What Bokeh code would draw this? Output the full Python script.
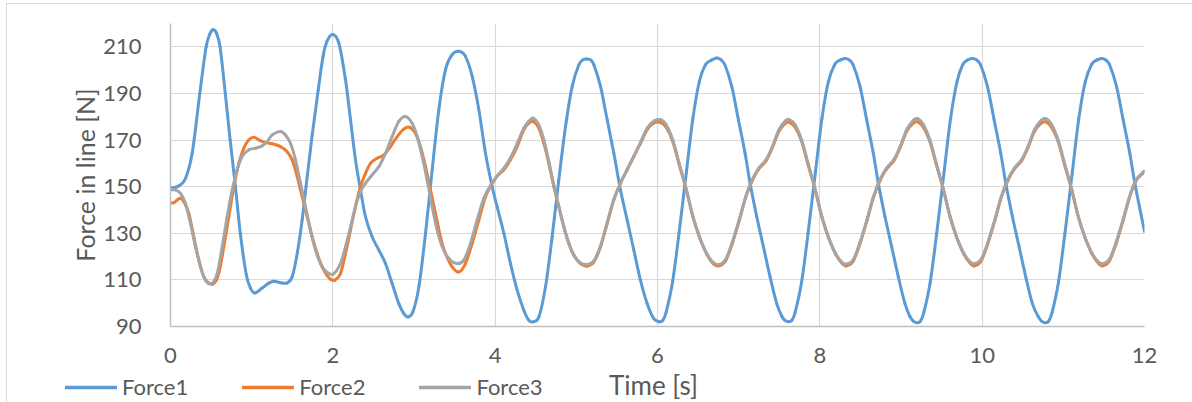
import numpy as np
from bokeh.plotting import figure
from bokeh.layouts import column
from bokeh.models import Range1d, FixedTicker, Legend, LegendItem, Label
from bokeh.embed import file_html
from bokeh.resources import INLINE

# ---- data -------------------------------------------------------------
x_ticks = [0, 2, 4, 6, 8, 10, 12]
y_ticks = [90, 110, 130, 150, 170, 190, 210]

series_names = ["Force1", "Force2", "Force3"]
series_colors = ["#5B9BD5", "#ED7D31", "#A5A5A5"]

# Force1 [N] over time [s]
t1 = [0, 0.05, 0.11, 0.185, 0.267, 0.361, 0.439, 0.485, 0.522, 0.565, 0.61, 0.675,
      0.735, 0.80, 0.86, 0.935, 0.985, 1.039, 1.129, 1.211, 1.273, 1.355, 1.437,
      1.499, 1.561, 1.622, 1.67, 1.745, 1.82, 1.88, 1.93, 2.0, 2.074, 2.156, 2.218,
      2.279, 2.341, 2.402, 2.484, 2.567, 2.649, 2.731, 2.813, 2.875, 2.928, 2.986,
      3.06, 3.142, 3.224, 3.306, 3.388, 3.47, 3.552, 3.634, 3.717, 3.799, 3.881,
      3.963, 4.024, 4.107, 4.189, 4.271, 4.353, 4.415, 4.468, 4.538, 4.62, 4.702,
      4.784, 4.867, 4.949, 5.031, 5.085, 5.133, 5.18, 5.216, 5.298, 5.38, 5.462,
      5.544, 5.626, 5.708, 5.79, 5.873, 5.955, 6.025, 6.065, 6.105, 6.185, 6.265,
      6.355, 6.435, 6.515, 6.595, 6.665, 6.73, 6.78, 6.83, 6.915, 6.997, 7.079,
      7.141, 7.223, 7.305, 7.387, 7.469, 7.53, 7.57, 7.615, 7.655, 7.695, 7.775,
      7.855, 7.945, 8.025, 8.105, 8.185, 8.25, 8.31, 8.36, 8.41, 8.495, 8.577,
      8.659, 8.721, 8.803, 8.885, 8.967, 9.049, 9.11, 9.155, 9.2, 9.24, 9.28, 9.36,
      9.44, 9.53, 9.61, 9.69, 9.76, 9.82, 9.88, 9.93, 9.98, 10.065, 10.147, 10.229,
      10.291, 10.373, 10.455, 10.537, 10.619, 10.69, 10.735, 10.78, 10.82, 10.86,
      10.94, 11.02, 11.11, 11.19, 11.27, 11.35, 11.41, 11.47, 11.52, 11.57, 11.655,
      11.737, 11.819, 11.881, 11.963, 12.0]
force1 = [149.6, 149.6, 150.5, 153.5, 164.3, 190.0, 210.0, 215.5, 217.3, 216.0, 210.0, 190.0,
          170.0, 150.0, 130.0, 112.0, 106.5, 104.4, 106.5, 108.6, 109.4, 108.8, 108.7,
          111.3, 121.3, 135.7, 150.0, 172.0, 191.5, 206.0, 212.5, 215.3, 211.6, 195.9, 178.7,
          161.5, 148.6, 137.1, 128.5, 122.8, 117.0, 108.4, 99.8, 95.5, 94.1, 96.2,
          107.0, 130.0, 157.2, 183.0, 200.2, 206.6, 208.1, 205.9, 197.3, 183.0, 164.3,
          150.0, 141.4, 130.0, 117.0, 105.6, 97.0, 92.7, 92.0, 94.1, 107.0, 128.5,
          152.9, 175.8, 193.0, 202.3, 204.5, 204.8, 204.3, 202.3, 193.0, 178.7, 164.3,
          148.6, 135.7, 122.8, 109.9, 99.8, 93.4, 92.0, 92.6, 96.0, 109.0, 130.0,
          156.0, 179.0, 195.0, 202.5, 204.3, 205.2, 204.5, 202.3, 193.0, 178.7, 164.3,
          151.4, 137.1, 124.2, 111.3, 99.8, 94.5, 92.6, 92.0, 92.6, 96.0, 109.0,
          130.0, 156.0, 179.0, 195.0, 202.5, 204.3, 205.0, 204.4, 202.3, 193.0, 178.7,
          164.3, 151.4, 137.1, 124.2, 111.3, 99.8, 94.3, 92.2, 91.6, 92.3, 95.8, 109.0,
          130.0, 156.0, 179.0, 195.0, 202.3, 204.3, 205.0, 204.4, 202.3, 193.0, 178.7, 164.3,
          151.4, 137.1, 124.2, 111.3, 99.8, 94.3, 92.2, 91.6, 92.3, 95.8,
          109.0, 130.0, 156.0, 179.0, 195.0, 202.5, 204.3, 205.0, 204.4, 202.3, 193.0,
          178.7, 164.3, 151.4, 137.1, 130.8]

# Force2 [N] over time [s]
t2 = [0, 0.041, 0.082, 0.123, 0.164, 0.226, 0.287, 0.349, 0.411, 0.472, 0.52, 0.565,
      0.6, 0.657, 0.719, 0.78, 0.842, 0.903, 0.965, 1.027, 1.088, 1.17, 1.253, 1.355,
      1.437, 1.499, 1.561, 1.622, 1.684, 1.745, 1.807, 1.869, 1.93, 1.975, 2.025,
      2.094, 2.156, 2.218, 2.279, 2.341, 2.402, 2.464, 2.546, 2.628, 2.71, 2.793,
      2.875, 2.945, 3.018, 3.08, 3.142, 3.203, 3.265, 3.326, 3.388, 3.47, 3.552,
      3.634, 3.717, 3.799, 3.881, 3.955, 4.024, 4.107, 4.189, 4.271, 4.353, 4.415,
      4.468, 4.538, 4.6, 4.661, 4.723, 4.784, 4.846, 4.908, 4.969, 5.051, 5.133,
      5.216, 5.298, 5.38, 5.462, 5.544, 5.626, 5.708, 5.79, 5.873, 5.955, 6.037,
      6.107, 6.187, 6.267, 6.357, 6.437, 6.517, 6.607, 6.687, 6.756, 6.836, 6.916,
      7.006, 7.086, 7.166, 7.246, 7.336, 7.416, 7.496, 7.576, 7.625, 7.695, 7.775,
      7.855, 7.945, 8.025, 8.105, 8.195, 8.275, 8.33, 8.41, 8.49, 8.58, 8.66, 8.74,
      8.82, 8.91, 8.99, 9.07, 9.15, 9.205, 9.275, 9.355, 9.435, 9.525, 9.605, 9.685,
      9.775, 9.855, 9.905, 9.985, 10.065, 10.155, 10.235, 10.315, 10.395, 10.485,
      10.565, 10.645, 10.725, 10.785, 10.855, 10.935, 11.015, 11.105, 11.185,
      11.265, 11.355, 11.435, 11.485, 11.565, 11.645, 11.735, 11.815, 11.895,
      11.975, 12.0]
force2 = [143.1, 143.1, 144.3, 145.0, 143.5, 138.5, 128.5, 118.5, 111.3, 108.6, 108.2, 109.8,
          113.5, 124.2, 137.1, 150.0, 160.0, 166.5, 170.1, 171.2, 170.1, 168.9, 168.4, 167.2,
          165.0, 161.5, 154.3, 145.7, 137.1, 128.5, 121.3, 115.6, 111.8, 110.2, 109.9,
          112.7, 121.3, 131.4, 141.4, 150.0, 155.7, 160.0, 162.2, 163.6, 167.2, 171.5,
          174.7, 175.5, 172.9, 167.2, 158.6, 148.6, 138.5, 128.5, 121.3, 115.6, 113.4,
          117.0, 125.6, 135.7, 145.7, 150.8, 154.5, 157.2, 161.5, 167.2, 174.4, 177.2,
          178.0, 175.1, 168.6, 160.0, 150.0, 141.4, 132.8, 125.6, 120.6, 117.0, 115.9,
          117.7, 124.2, 134.2, 144.3, 151.4, 157.2, 162.9, 168.6, 174.4, 177.3, 177.5,
          175.5, 169.5, 159.5, 148.3, 137.0, 128.3, 121.0, 117.0, 116.0, 118.0, 125.0,
          135.3, 145.3, 152.5, 157.5, 161.0, 166.8, 173.8, 177.2, 177.6, 175.5, 169.5,
          159.5, 148.3, 137.0, 128.3, 121.0, 117.0, 116.0, 118.0, 125.0, 135.3, 145.3, 152.5,
          157.5, 161.0, 166.8, 173.8, 177.2, 177.8, 175.5, 169.5, 159.5, 148.3, 137.0, 128.3,
          121.0, 117.0, 116.0, 118.0, 125.0, 135.3, 145.3, 152.5, 157.5, 161.0,
          166.8, 173.8, 177.2, 177.8, 175.5, 169.5, 159.5, 148.3, 137.0,
          128.3, 121.0, 117.0, 116.0, 118.0, 125.0, 135.3, 145.3, 152.5,
          155.6, 156.5]

# Force3 [N] over time [s]
t3 = [0, 0.062, 0.123, 0.185, 0.246, 0.308, 0.37, 0.431, 0.505, 0.575, 0.637, 0.698,
      0.76, 0.821, 0.883, 0.965, 1.047, 1.129, 1.191, 1.253, 1.355, 1.417, 1.478,
      1.54, 1.602, 1.663, 1.725, 1.786, 1.848, 1.91, 1.999, 2.094, 2.156, 2.218,
      2.279, 2.341, 2.402, 2.484, 2.567, 2.649, 2.731, 2.813, 2.895, 2.977, 3.039,
      3.101, 3.162, 3.224, 3.285, 3.347, 3.429, 3.532, 3.614, 3.696, 3.778, 3.86,
      3.943, 4.024, 4.107, 4.189, 4.271, 4.353, 4.415, 4.468, 4.538, 4.6, 4.661,
      4.723, 4.784, 4.846, 4.908, 4.969, 5.051, 5.133, 5.216, 5.298, 5.38, 5.462,
      5.544, 5.626, 5.708, 5.79, 5.873, 5.955, 6.037, 6.107, 6.187, 6.267, 6.357,
      6.437, 6.517, 6.607, 6.687, 6.756, 6.836, 6.916, 7.006, 7.086, 7.166, 7.246,
      7.336, 7.416, 7.496, 7.576, 7.625, 7.695, 7.775, 7.855, 7.945, 8.025, 8.105,
      8.195, 8.275, 8.33, 8.41, 8.49, 8.58, 8.66, 8.74, 8.82, 8.91, 8.99, 9.07,
      9.15, 9.205, 9.275, 9.355, 9.435, 9.525, 9.605, 9.685, 9.775, 9.855, 9.905,
      9.985, 10.065, 10.155, 10.235, 10.315, 10.395, 10.485, 10.565, 10.645,
      10.725, 10.785, 10.855, 10.935, 11.015, 11.105, 11.185, 11.265, 11.355,
      11.435, 11.485, 11.565, 11.645, 11.735, 11.815, 11.895, 11.975, 12.0]
force3 = [148.6, 148.6, 147.1, 142.8, 134.2, 124.2, 115.6, 109.9, 108.4, 112.7, 124.2, 137.1,
          148.6, 157.2, 162.9, 165.8, 166.5, 167.5, 169.4, 172.2, 173.7, 172.2, 168.6,
          161.5, 151.4, 141.4, 131.4, 122.8, 117.0, 113.8, 112.4, 117.0, 124.2, 132.8,
          141.4, 147.8, 151.4, 155.0, 158.6, 164.3, 171.5, 178.0, 180.1, 177.2, 171.5,
          162.9, 152.9, 141.4, 131.4, 124.2, 119.2, 117.0, 118.5, 125.6, 135.7, 145.0,
          150.5, 154.5, 157.9, 162.4, 168.6, 175.1, 178.0, 179.4, 176.5, 170.1, 160.9,
          150.6, 141.4, 132.8, 125.6, 120.6, 117.3, 116.6, 118.2, 124.6, 134.6, 144.6,
          151.6, 157.4, 163.1, 169.0, 175.1, 178.2, 178.7, 176.5, 170.1, 160.0, 148.6,
          137.1, 128.5, 121.3, 117.4, 116.5, 118.5, 125.6, 135.7, 145.7, 152.9, 157.9,
          161.5, 167.2, 174.4, 178.2, 178.8, 176.5, 170.1, 160.0, 148.6, 137.1, 128.5,
          121.3, 117.4, 116.8, 118.5, 125.6, 135.7, 145.7, 152.9, 157.9, 161.5, 167.2, 174.4,
          178.4, 179.2, 176.7, 170.1, 160.0, 148.6, 137.1, 128.5, 121.3, 117.6, 117.0,
          118.7, 125.6, 135.7, 145.7, 152.9, 157.9, 161.5, 167.2, 174.4,
          178.4, 179.2, 176.7, 170.1, 160.0, 148.6, 137.1, 128.5, 121.3,
          117.6, 117.0, 118.7, 125.6, 135.7, 145.7, 152.9, 156.0, 156.8]

FONT = "Lato"
TEXT = "#595959"


def smooth_segments(t, v):
    """Cubic Hermite pieces between consecutive samples (smoothed line)."""
    n = len(t)
    slope = []
    for i in range(n):
        a = max(i - 1, 0)
        b = min(i + 1, n - 1)
        slope.append((v[b] - v[a]) / (t[b] - t[a]))
    seg = dict(x0=[], y0=[], x1=[], y1=[], cx0=[], cy0=[], cx1=[], cy1=[])
    for i in range(n - 1):
        h = t[i + 1] - t[i]
        seg["x0"].append(t[i])
        seg["y0"].append(v[i])
        seg["x1"].append(t[i + 1])
        seg["y1"].append(v[i + 1])
        seg["cx0"].append(t[i] + h / 3)
        seg["cy0"].append(v[i] + slope[i] * h / 3)
        seg["cx1"].append(t[i + 1] - h / 3)
        seg["cy1"].append(v[i + 1] - slope[i + 1] * h / 3)
    return seg


# ---- main chart -------------------------------------------------------
p = figure(width=1185, height=364, output_backend="svg", toolbar_location=None,
           x_range=Range1d(0, 12), y_range=Range1d(90, 220),
           min_border_left=163, min_border_right=48, min_border_top=19,
           min_border_bottom=42)
p.frame_align = False
p.outline_line_color = None
p.background_fill_color = "white"
p.border_fill_color = "white"

for t, f, c in zip([t1, t2, t3], [force1, force2, force3], series_colors):
    p.bezier(line_color=c, line_width=3, line_cap="round", **smooth_segments(t, f))

p.xaxis.ticker = FixedTicker(ticks=x_ticks)
p.yaxis.ticker = FixedTicker(ticks=y_ticks)
for ax in (p.xaxis, p.yaxis):
    ax.major_tick_line_color = None
    ax.minor_tick_line_color = None
    ax.axis_line_color = "#BFBFBF"
    ax.axis_line_width = 1.5
    ax.major_label_text_font = FONT
    ax.major_label_text_font_size = "22px"
    ax.major_label_text_color = TEXT
    ax.axis_label_text_font = FONT
    ax.axis_label_text_font_size = "25px"
    ax.axis_label_text_font_style = "normal"
    ax.axis_label_text_color = TEXT

p.yaxis.axis_label = "Force in line [N]"
p.xaxis.major_label_standoff = 15
p.yaxis.major_label_standoff = 23
p.yaxis.axis_label_standoff = 0

p.xgrid.grid_line_color = "#D9D9D9"
p.ygrid.grid_line_color = "#D9D9D9"
p.xgrid.grid_line_width = 1.2
p.ygrid.grid_line_width = 1.2

# ---- bottom strip: legend and x-axis title ----------------------------
strip = figure(width=1185, height=34, output_backend="svg", toolbar_location=None,
               x_range=Range1d(0, 1), y_range=Range1d(0, 1),
               x_axis_location=None, y_axis_location=None,
               min_border=0, min_border_left=0, min_border_right=0,
               min_border_top=0, min_border_bottom=0)
strip.frame_align = False
strip.outline_line_color = None
strip.xgrid.visible = False
strip.ygrid.visible = False
strip.background_fill_color = "white"
strip.border_fill_color = "white"

keys = [strip.line(x=np.array([np.nan]), y=np.array([np.nan]),
                   line_color=c, line_width=3.5, line_cap="round")
        for c in series_colors]
legend = Legend(items=[LegendItem(label=n, renderers=[r])
                       for n, r in zip(series_names, keys)],
                orientation="horizontal", location=(58, 2),
                glyph_width=52, glyph_height=26, label_height=26,
                label_standoff=5, label_width=62, spacing=54,
                padding=0, margin=0, border_line_color=None,
                background_fill_alpha=0,
                label_text_font=FONT, label_text_font_size="22px",
                label_text_color=TEXT)
strip.add_layout(legend, "center")

strip.add_layout(Label(x=646, y=18, x_units="screen", y_units="screen",
                       text="Time [s]", text_align="center",
                       text_baseline="middle",
                       text_font=FONT, text_font_size="26px", text_color=TEXT))

page = column(p, strip, spacing=0)
page.styles = {"margin-left": "6px", "margin-top": "3px",
               "border-left": "1px solid #D9D9D9", "border-top": "1px solid #D9D9D9"}

open("out.html", "w").write(file_html(page, INLINE))
